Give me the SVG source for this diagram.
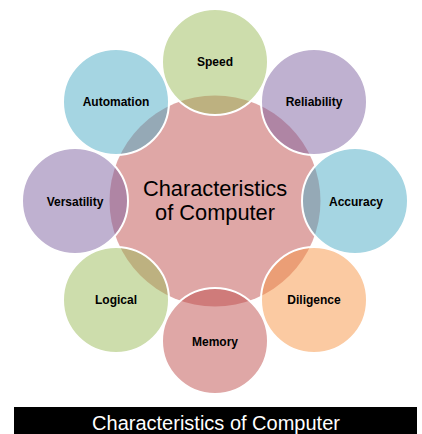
<svg xmlns="http://www.w3.org/2000/svg" width="422" height="434" viewBox="0 0 422 434">
<style>
.bg{fill:#ffffff}
.hub{fill:#C0504D;fill-opacity:0.5}
.node{fill-opacity:0.5;stroke:#ffffff;stroke-width:2}
.green{fill:#9BBB59}
.aqua{fill:#4BACC6}
.purple{fill:#8064A2}
.orange{fill:#F79646}
.red{fill:#C0504D}
.lbl{font-family:"Liberation Sans",Arial,sans-serif;font-weight:bold;font-size:12px;fill:#000000;text-anchor:middle}
.hubtxt{font-family:"Liberation Sans",Arial,sans-serif;font-size:21.8px;fill:#000000;text-anchor:middle}
.caption{font-family:"Liberation Sans",Arial,sans-serif;font-size:20px;fill:#ffffff;text-anchor:middle}
</style>
<rect class="bg" x="0" y="0" width="422" height="434"/>
<g id="hub">
<circle class="hub" cx="215" cy="201" r="105.5"/>
<text class="hubtxt" x="215" y="196">Characteristics</text>
<text class="hubtxt" x="215" y="220">of Computer</text>
</g>
<g id="connectors"></g>
<g id="speed"><circle class="node green" cx="215" cy="62" r="53"/><text class="lbl" x="215" y="66">Speed</text></g>
<g id="reliability"><circle class="node purple" cx="314" cy="102" r="53"/><text class="lbl" x="314" y="106">Reliability</text></g>
<g id="accuracy"><circle class="node aqua" cx="355" cy="201" r="53"/><text class="lbl" x="356" y="206">Accuracy</text></g>
<g id="diligence"><circle class="node orange" cx="314" cy="300" r="53"/><text class="lbl" x="314" y="304">Diligence</text></g>
<g id="memory"><circle class="node red" cx="215" cy="341" r="53"/><text class="lbl" x="215" y="346">Memory</text></g>
<g id="logical"><circle class="node green" cx="116" cy="300" r="53"/><text class="lbl" x="116" y="304">Logical</text></g>
<g id="versatility"><circle class="node purple" cx="75" cy="201" r="53"/><text class="lbl" x="75" y="206">Versatility</text></g>
<g id="automation"><circle class="node aqua" cx="116" cy="102" r="53"/><text class="lbl" x="116" y="106">Automation</text></g>
<g id="caption">
<rect x="14" y="407" width="403" height="27" fill="#000000"/>
<text class="caption" x="216" y="430">Characteristics of Computer</text>
</g>
</svg>
